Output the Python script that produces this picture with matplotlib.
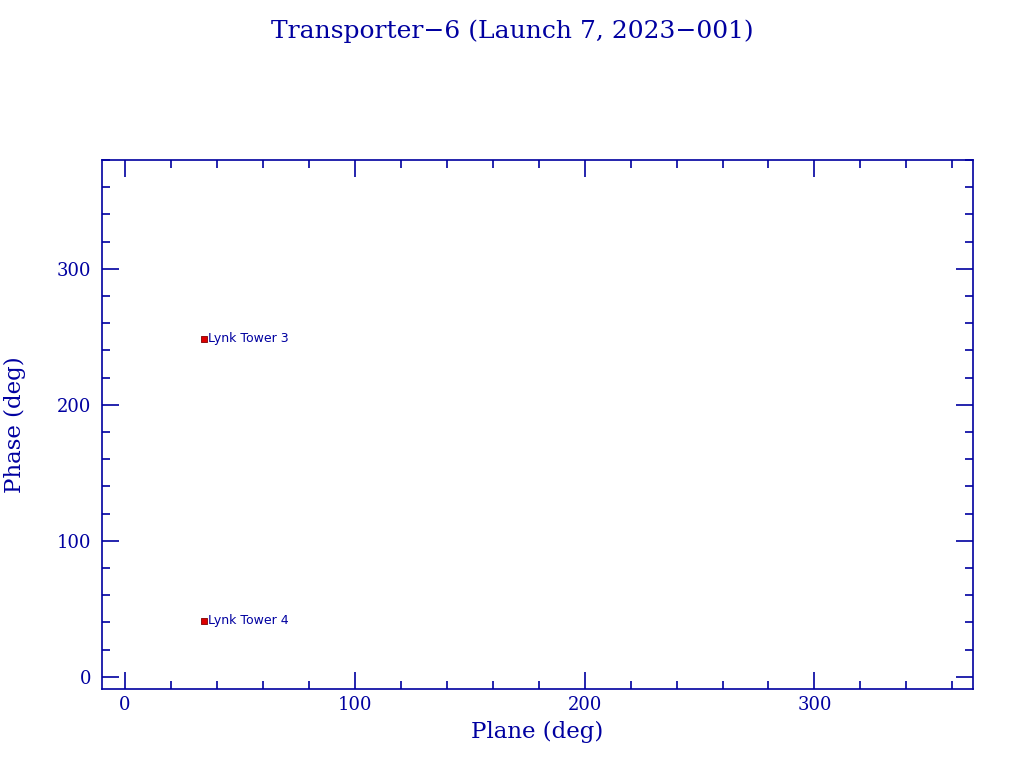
import numpy as np
import matplotlib.pyplot as plt
from matplotlib.ticker import MultipleLocator

# satellite positions
names = ['Lynk Tower 3', 'Lynk Tower 4']
plane = [34.3, 34.3]
phase = [248.5, 41.2]

blue = '#0000a0'
plt.rcParams['font.family'] = ['DejaVu Serif']

fig = plt.figure(figsize=(10.24, 7.68), dpi=100)
ax = fig.add_axes([102/1024, 1-689/768, (973-102)/1024, (689-160)/768])

ax.scatter(plane, phase, s=16, marker='s', color='#dd0000', edgecolors='#800000', linewidths=0.6, zorder=3)
for n, x, y in zip(names, plane, phase):
    ax.text(x + 2.0, y, n, color=blue, fontsize=9, va='center', ha='left', family='DejaVu Sans')

ax.set_xlim(-10, 369)
ax.set_ylim(-9, 380)
ax.xaxis.set_major_locator(MultipleLocator(100))
ax.xaxis.set_minor_locator(MultipleLocator(20))
ax.yaxis.set_major_locator(MultipleLocator(100))
ax.yaxis.set_minor_locator(MultipleLocator(20))
ax.tick_params(which='both', direction='in', top=True, right=True, colors=blue, labelsize=13, width=1.2)
ax.tick_params(axis='x', pad=5)
ax.tick_params(axis='y', pad=8)
ax.tick_params(which='major', length=12)
ax.tick_params(which='minor', length=6)
for s in ax.spines.values():
    s.set_color(blue)
    s.set_linewidth(1.2)

ax.set_xlabel('Plane (deg)', color=blue, fontsize=16.5)
ax.set_ylabel('Phase (deg)', color=blue, fontsize=16.5)
ax.xaxis.set_label_coords(0.5, -(732 - 689) / 529)
ax.yaxis.set_label_coords(-(102 - 15) / 871, 0.5)
ax.xaxis.label.set_va('center')
ax.yaxis.label.set_va('center')
fig.suptitle('Transporter\u22126 (Launch 7, 2023\u2212001)', color=blue, fontsize=18, y=0.975)

fig.savefig('out.png', dpi=100)
